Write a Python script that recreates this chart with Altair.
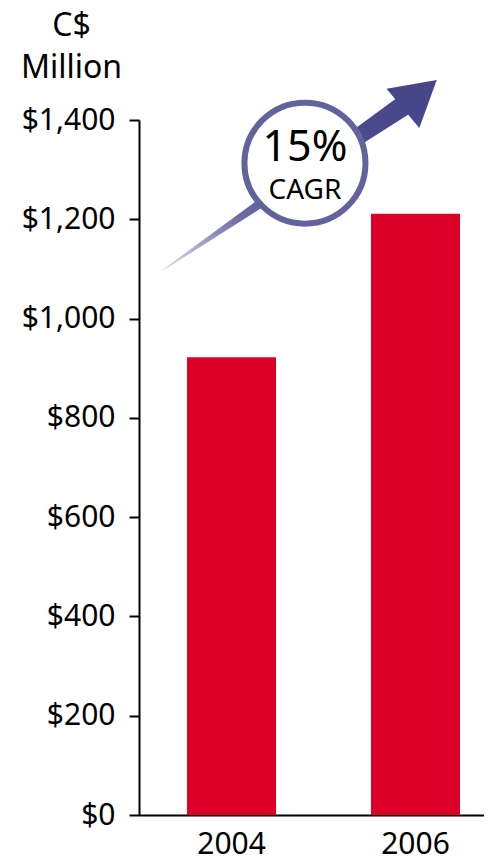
import altair as alt
import pandas as pd

years = ["2004", "2006"]
revenue = [922, 1211]

y_ticks = [0, 200, 400, 600, 800, 1000, 1200, 1400]

# annotation: arrow (tail -> head) in relative x and data y
arrow_x = [0.07, 0.79]
arrow_y = [1098, 1440]
arrow_w = [1, 21]
head_x = [0.814]
head_y = [1452]
circle_x = [0.481]
circle_y = [1313]
label_text = ["15%", "CAGR"]
label_y = [1317, 1241]
label_size = [43, 28]

FONT = "Noto Sans"
RED = "#DC0028"
NAVY = "#46468a"

bars_df = pd.DataFrame({"year": years, "value": revenue})
arrow_df = pd.DataFrame({"ax": arrow_x, "ay": arrow_y, "w": arrow_w, "o": [0, 1]})
head_df = pd.DataFrame({"ax": head_x, "ay": head_y})
circle_df = pd.DataFrame({"ax": circle_x, "ay": circle_y})
label_df = pd.DataFrame({"ax": circle_x * 2, "ay": label_y, "t": label_text, "s": label_size})

yscale = alt.Scale(domain=[0, 1400], nice=False)
xrel = alt.Scale(domain=[0, 1])

bars = alt.Chart(bars_df).mark_bar(color=RED).encode(
    x=alt.X("year:N", scale=alt.Scale(paddingInner=0.5163, paddingOuter=0.1957, align=0.667),
            axis=alt.Axis(title=None, labelAngle=0, ticks=False, labelFontSize=30,
                          labelFont=FONT, labelColor="black", labelPadding=14,
                          domainColor="black", domainWidth=2)),
    y=alt.Y("value:Q", scale=yscale,
            axis=alt.Axis(values=y_ticks, format="$,d", grid=False,
                          labelFontSize=30, labelFont=FONT, labelColor="black",
                          labelPadding=14, tickSize=10, tickWidth=2, tickColor="black",
                          domainColor="black", domainWidth=2,
                          title=["C$", "Million"], titleAngle=0, titleAlign="center",
                          titleBaseline="alphabetic", titleX=-68, titleY=-85,
                          titleFontSize=32, titleFont=FONT, titleFontWeight="normal",
                          titleLineHeight=42, titleColor="black")),
)

grad = alt.LinearGradient(
    gradient="linear",
    stops=[alt.GradientStop(color="#dcdcec", offset=0),
           alt.GradientStop(color="#6a6aa4", offset=0.3),
           alt.GradientStop(color="#4c4c8e", offset=0.6),
           alt.GradientStop(color=NAVY, offset=1)],
    x1=0, y1=1, x2=1, y2=0,
)

arrow = alt.Chart(arrow_df).mark_trail(color=grad).encode(
    x=alt.X("ax:Q", scale=xrel, axis=None),
    y=alt.Y("ay:Q", scale=yscale),
    size=alt.Size("w:Q", scale=None, legend=None),
    order="o:Q",
)

head = alt.Chart(head_df).mark_point(
    shape="triangle-up", filled=True, color=NAVY, opacity=1, size=2600, angle=50
).encode(
    x=alt.X("ax:Q", scale=xrel, axis=None),
    y=alt.Y("ay:Q", scale=yscale),
)

circle = alt.Chart(circle_df).mark_point(
    shape="circle", filled=False, fill="white", fillOpacity=1, stroke="#62629c",
    strokeWidth=6, size=14641, opacity=1
).encode(
    x=alt.X("ax:Q", scale=xrel, axis=None),
    y=alt.Y("ay:Q", scale=yscale),
)

labels = alt.Chart(label_df).mark_text(
    font=FONT, color="black", align="center", baseline="alphabetic"
).encode(
    x=alt.X("ax:Q", scale=xrel, axis=None),
    y=alt.Y("ay:Q", scale=yscale),
    text="t:N",
    size=alt.Size("s:Q", scale=None, legend=None),
)

chart = alt.layer(bars, arrow, head, circle, labels).resolve_scale(
    x="independent"
).properties(
    width=345, height=695,
    autosize=alt.AutoSizeParams(type="none"),
    padding={"left": 131, "top": 112, "right": 0, "bottom": 44},
).configure_view(stroke=None)

chart.save("out.html", embed_options={"renderer": "svg", "actions": False})
